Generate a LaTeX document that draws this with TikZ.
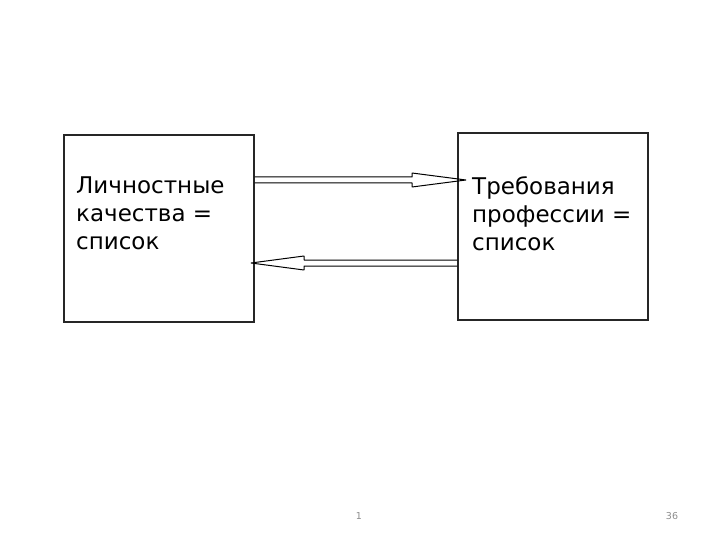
\documentclass[tikz,border=0pt]{standalone}
\usepackage{fontspec}
\setmainfont{DejaVu Sans}
\begin{document}
\begin{tikzpicture}[x=1pt,y=-1pt,
  box/.style={draw=black!85,line width=1.4pt,minimum width=190pt,minimum height=187pt,inner sep=0pt},
  label/.style={anchor=north west,align=left,inner sep=0pt,font=\fontsize{23}{28}\selectfont},
  hollow/.style={draw=black,line width=1pt,line join=bevel},
  foot/.style={text=black!45,font=\fontsize{9.5}{10}\selectfont,inner sep=0pt}]
\useasboundingbox (0,0) rectangle (720,540);
\node[box] (lbox) at (159,228.5) {};
\node[box] (rbox) at (553,226.5) {};
\node[label] (ltext) at (76,177) {Личностные\\качества =\\список};
\node[label] (rtext) at (472,176) {Требования\\профессии =\\список};
% top arrow (left to right)
\coordinate (a1) at (lbox.east |- 0,177);
\coordinate (a2) at (lbox.east |- 0,183);
\path[hollow] (a1) -- (412,177) -- (412,173) -- (466,180) -- (412,187) -- (412,183) -- (a2);
% bottom arrow (right to left)
\coordinate (b1) at (rbox.west |- 0,260);
\coordinate (b2) at (rbox.west |- 0,266);
\path[hollow] (b1) -- (304,260) -- (304,256) -- (251,263) -- (304,270) -- (304,266) -- (b2);
\node[foot] (p1) at (359,516) {1};
\node[foot] (p2) at (672,516) {36};
\end{tikzpicture}
\end{document}
